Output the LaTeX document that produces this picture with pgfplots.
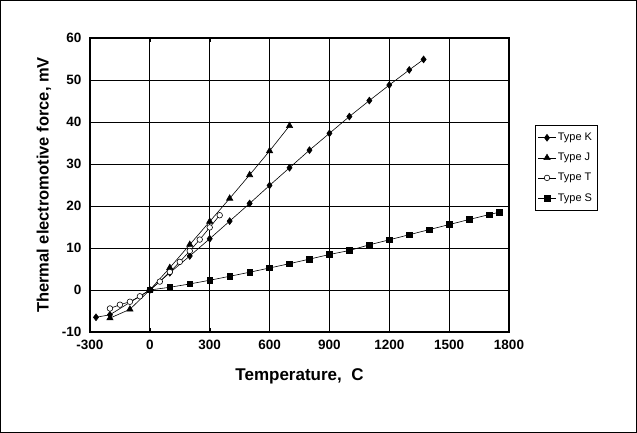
\documentclass[border=0pt]{standalone}
\usepackage{pgfplots}
\pgfplotsset{compat=1.18}
\usepackage{fontspec}
\setmainfont{Liberation Sans}
\begin{document}
\begin{tikzpicture}[x=1pt,y=1pt]
\draw[line width=0.8pt] (0.4,0.4) rectangle (636.6,432.6);
\begin{axis}[at={(90pt,101pt)},anchor=south west,scale only axis,width=419pt,height=294pt,
 xmin=-300,xmax=1800,ymin=-10,ymax=60,
 xtick={-300,0,...,1800},ytick={-10,0,...,60},
 grid=major,major grid style={black,line width=0.9pt},
 axis line style={line width=1.4pt},tick style={black},
 tick label style={font=\fontsize{13.5}{15}\selectfont\bfseries},
 x tick label style={yshift=-5pt},y tick label style={xshift=-5pt},
 /pgf/number format/assume math mode=true,
 scaled ticks=false, x tick label style={/pgf/number format/1000 sep={}},
 xlabel={\fontsize{17}{19}\selectfont\bfseries Temperature,\ \ C},
 ylabel={\fontsize{16.5}{19}\selectfont\bfseries Thermal electromotive force, mV},
 xlabel style={yshift=-12pt}, ylabel style={yshift=4pt},
 legend style={at={(1.062,0.704)},anchor=north west,font=\fontsize{11}{13}\selectfont,draw=black,
   row sep=7pt,inner xsep=3pt,inner ysep=6pt},
 legend cell align=left,
 every axis plot/.append style={black,line width=0.6pt}]
\addplot[mark=diamond*,mark size=3.4pt] coordinates {(-270,-6.5)(-200,-5.9)(0,0)(100,4.1)(200,8.1)(300,12.2)(400,16.4)(500,20.6)(600,24.9)(700,29.1)(800,33.3)(900,37.3)(1000,41.3)(1100,45.1)(1200,48.8)(1300,52.4)(1372,54.9)};
\addlegendentry{Type K}
\addplot[mark=triangle*,mark size=3.6pt] coordinates {(-200,-6.7)(-100,-4.6)(0,0)(100,5.3)(200,10.8)(300,16.3)(400,21.8)(500,27.4)(600,33.1)(700,39.1)};
\addlegendentry{Type J}
\addplot[mark=*,mark options={fill=white},mark size=2.8pt] coordinates {(-200,-4.4)(-150,-3.5)(-100,-2.8)(-50,-1.5)(0,0)(50,2.0)(100,4.3)(150,6.7)(200,9.3)(250,12.0)(300,14.9)(350,17.8)};
\addlegendentry{Type T}
\addplot[mark=square*,mark size=2.8pt] coordinates {(0,0)(100,0.65)(200,1.44)(300,2.32)(400,3.26)(500,4.23)(600,5.24)(700,6.27)(800,7.35)(900,8.45)(1000,9.4)(1100,10.76)(1200,11.95)(1300,13.16)(1400,14.37)(1500,15.58)(1600,16.78)(1700,17.95)(1750,18.5)};
\addlegendentry{Type S}
\end{axis}
\end{tikzpicture}
\end{document}
